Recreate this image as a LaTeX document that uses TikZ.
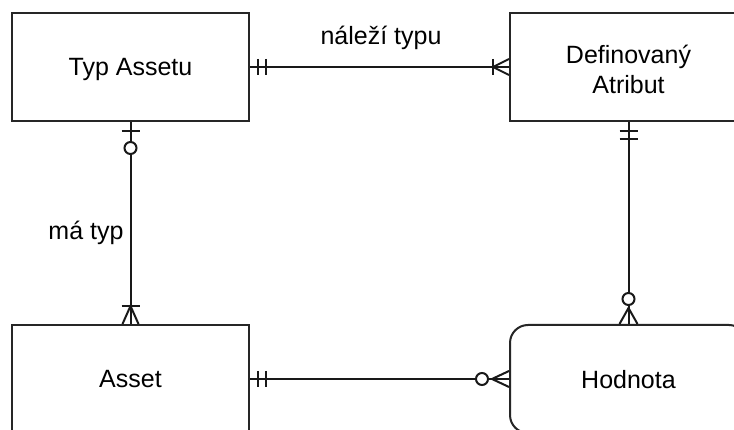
\documentclass[tikz,border=0pt]{standalone}
\usepackage{fontspec}
\setmainfont{Liberation Sans}
\usetikzlibrary{calc}
\begin{document}
\begin{tikzpicture}[x=1pt, y=-1pt,
  entity/.style={draw=black!85, line width=2pt, fill=white,
    minimum width=237pt, minimum height=108pt, inner sep=0pt,
    align=center, font=\fontsize{25}{30}\selectfont},
  rel/.style={draw=black!90, line width=2pt},
  opt/.style={draw=black!90, line width=2pt, fill=white},
  lbl/.style={font=\fontsize{25}{30}\selectfont, inner sep=0pt}]
\useasboundingbox (0,0) rectangle (734,430);
\fill[white] (0,0) rectangle (734,430);
\clip (0,0) rectangle (734,430);

% entities
\node[entity, text depth=0pt] (ta) at (130.5,67) {Typ Assetu};
\node[entity, text height=54pt, text depth=0pt] (da) at (628.5,67) {Definovaný\\Atribut};
\node[entity, text depth=0pt] (as) at (130.5,379) {Asset};
\node[entity, text depth=0pt, rounded corners=18pt] (hd) at (628.5,379) {Hodnota};

% relationship labels
\node[lbl] (l1) at (381,38) {náleží typu};
\node[lbl] (l2) at (86,233) {má typ};

% Typ Assetu -- Definovaný Atribut (one and only one to one or many)
\draw[rel] (ta.east) -- (da.west);
\draw[rel] ($(ta.east)+(8,-8)$) -- ($(ta.east)+(8,8)$);
\draw[rel] ($(ta.east)+(16,-8)$) -- ($(ta.east)+(16,8)$);
\draw[rel] ($(da.west)+(-16,-8)$) -- ($(da.west)+(-16,8)$);
\draw[rel] ($(da.west)+(0,-8)$) -- ($(da.west)+(-16,0)$) -- ($(da.west)+(0,8)$);

% Typ Assetu -- Asset (zero or one to one or many)
\draw[rel] (ta.south) -- (as.north);
\draw[rel] ($(ta.south)+(-9,9)$) -- ($(ta.south)+(9,9)$);
\draw[opt] ($(ta.south)+(0,26)$) circle[radius=6];
\draw[rel] ($(as.north)+(-9,-18)$) -- ($(as.north)+(9,-18)$);
\draw[rel] ($(as.north)+(-8,0)$) -- ($(as.north)+(0,-18)$) -- ($(as.north)+(8,0)$);

% Definovaný Atribut -- Hodnota (one and only one to zero or many)
\draw[rel] (da.south) -- (hd.north);
\draw[rel] ($(da.south)+(-9,9)$) -- ($(da.south)+(9,9)$);
\draw[rel] ($(da.south)+(-9,17)$) -- ($(da.south)+(9,17)$);
\draw[rel] ($(hd.north)+(-9,0)$) -- ($(hd.north)+(0,-16)$) -- ($(hd.north)+(9,0)$);
\draw[opt] ($(hd.north)+(0,-25)$) circle[radius=6];

% Asset -- Hodnota (one and only one to zero or many)
\draw[rel] (as.east) -- (hd.west);
\draw[rel] ($(as.east)+(8,-8)$) -- ($(as.east)+(8,8)$);
\draw[rel] ($(as.east)+(16,-8)$) -- ($(as.east)+(16,8)$);
\draw[rel] ($(hd.west)+(0,-8)$) -- ($(hd.west)+(-17,0)$) -- ($(hd.west)+(0,8)$);
\draw[opt] ($(hd.west)+(-27,0)$) circle[radius=6];
\end{tikzpicture}
\end{document}
